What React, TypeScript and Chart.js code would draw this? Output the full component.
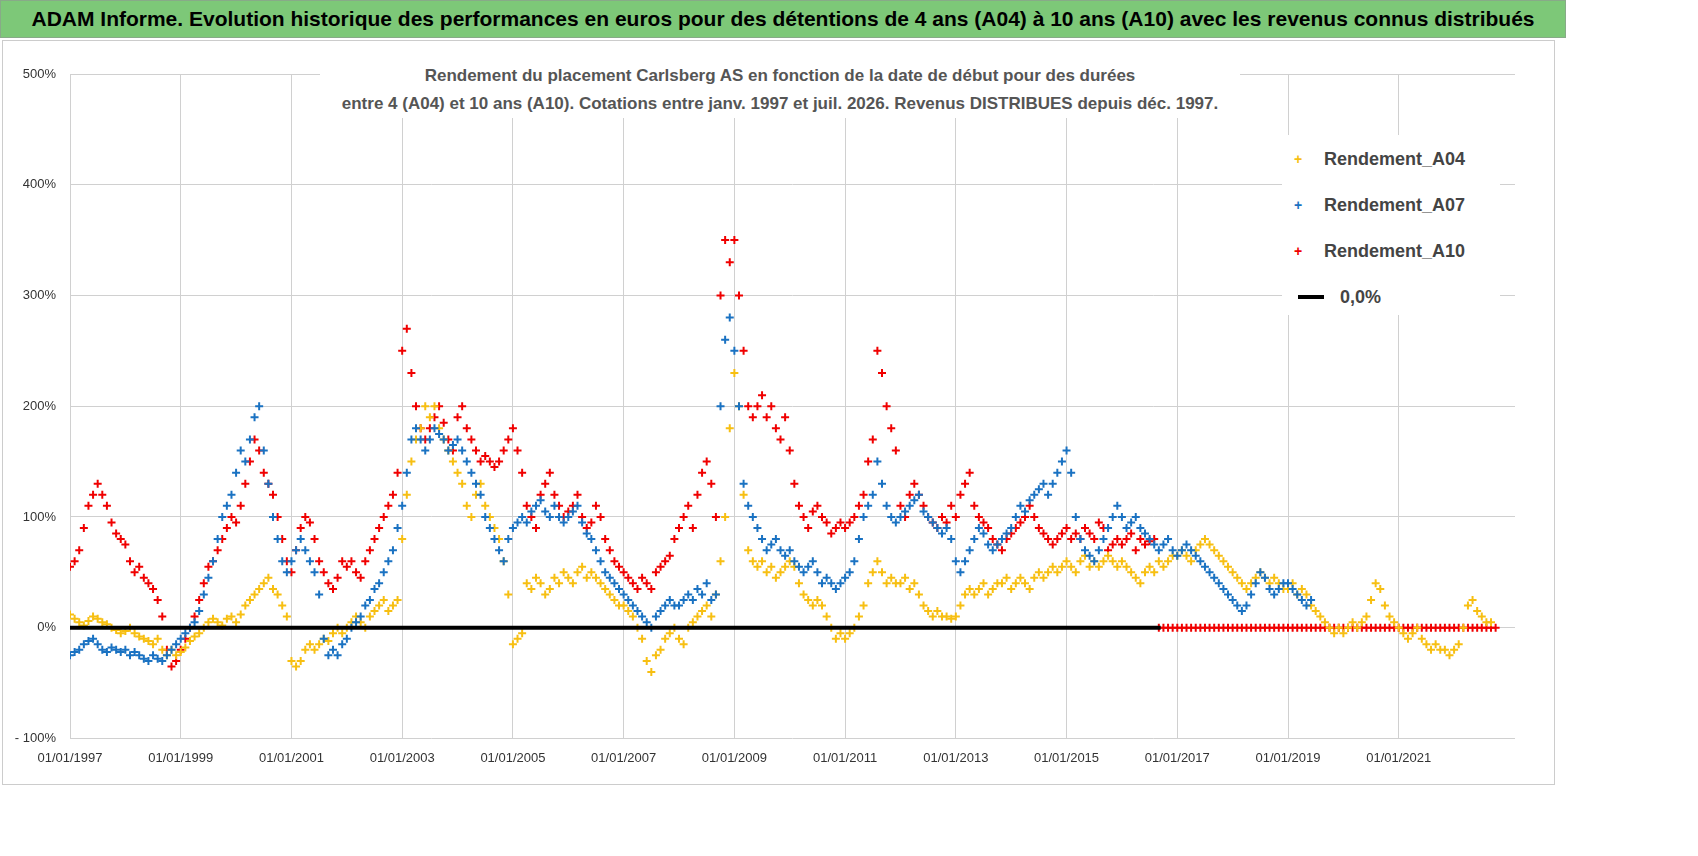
import React, { useEffect, useRef } from "react";
import { Chart, registerables } from "chart.js";
Chart.register(...registerables);

const START_YEAR = 1997;
const A04: number[] = [
  12,8,5,2,6,10,8,5,3,0,-2,-5,
  -3,0,-5,-8,-10,-12,-15,-10,-20,-25,-20,-25,
  -22,-18,-12,-8,-5,0,5,8,5,2,8,10,
  5,12,20,25,30,35,40,45,35,30,20,10,
  -30,-35,-30,-20,-15,-20,-15,-10,-12,-5,0,-5,
  0,5,10,5,0,10,15,20,25,15,20,25,
  80,120,150,170,180,200,190,200,180,170,160,150,
  140,130,110,100,120,130,110,100,90,80,60,30,
  -15,-10,-5,40,35,45,40,30,35,45,40,50,
  45,40,50,55,45,50,45,40,35,30,25,20,
  20,15,10,0,-10,-30,-40,-25,-20,-10,-5,0,
  -10,-15,0,5,10,15,20,10,30,60,100,180,
  230,200,120,70,60,55,60,50,55,45,50,55,
  60,55,40,30,25,20,25,20,10,0,-10,-5,
  -10,-5,0,10,20,40,50,60,50,40,45,40,
  40,45,35,40,30,20,15,10,15,10,10,8,
  10,20,30,35,30,35,40,30,35,40,40,45,
  35,40,45,40,35,45,50,45,50,55,50,55,
  60,55,50,60,65,55,60,55,60,65,60,55,
  60,55,50,45,40,50,55,50,60,55,60,65,
  65,70,65,60,70,75,80,75,70,65,60,55,
  50,45,40,35,40,45,50,45,40,45,40,35,
  35,40,30,35,30,20,15,10,5,0,-5,0,
  -5,0,5,0,5,10,25,40,35,20,10,5,
  0,-5,-10,-5,0,-10,-15,-20,-15,-20,-20,-25,
  -20,-15,0,20,25,15,10,5,5,
];
const A07: number[] = [
  -25,-22,-20,-15,-12,-10,-15,-20,-22,-18,-20,-22,
  -20,-25,-22,-25,-28,-30,-25,-28,-30,-25,-20,-15,
  -10,-5,0,5,15,30,45,60,80,100,110,120,
  140,160,150,170,190,200,160,130,100,80,60,50,
  60,70,80,70,60,50,30,-10,-25,-20,-25,-15,
  -10,0,5,10,20,25,35,40,50,60,70,90,
  110,140,170,180,170,160,170,180,175,170,160,165,
  170,160,150,140,130,120,100,90,80,70,60,80,
  90,95,100,95,105,110,115,105,100,110,100,95,
  100,105,110,95,85,80,70,60,50,45,40,35,
  30,25,20,15,10,5,0,10,15,20,25,20,
  20,25,30,25,35,30,40,25,30,200,260,280,
  250,200,130,110,100,90,80,70,75,80,70,65,
  70,60,55,50,55,60,50,40,45,40,35,40,
  45,50,60,80,100,110,120,150,130,110,100,95,
  100,105,110,115,120,105,100,95,90,85,90,80,
  60,50,60,70,80,90,85,75,70,75,80,85,
  90,100,110,105,115,120,125,130,120,130,140,150,
  160,140,100,80,70,65,60,70,80,90,100,110,
  100,90,95,100,90,85,80,75,70,75,80,70,
  65,70,75,70,65,60,55,50,45,40,35,30,
  25,20,15,20,30,40,50,45,35,30,35,40,
  40,35,30,25,20,25,
];
const A10: number[] = [
  55,60,70,90,110,120,130,120,110,95,85,80,
  75,60,50,55,45,40,35,25,10,-20,-35,-30,
  -20,-10,0,10,25,40,55,60,70,80,90,100,
  95,110,130,150,170,160,140,130,120,100,80,60,
  50,70,90,100,95,80,60,50,40,35,45,60,
  55,60,50,45,60,70,80,90,100,110,120,140,
  250,270,230,200,180,170,180,190,200,185,170,160,
  190,200,180,170,160,150,155,150,145,150,160,170,
  180,160,140,110,100,90,120,130,140,120,110,100,
  105,110,120,100,90,95,110,100,80,70,60,55,
  50,45,40,35,45,40,35,50,55,60,65,80,
  90,100,110,90,120,140,150,130,100,300,350,330,
  350,300,250,200,190,200,210,190,200,180,170,190,
  160,130,110,100,90,105,110,100,95,85,90,95,
  90,95,100,110,120,150,170,250,230,200,180,160,
  110,100,120,130,120,110,100,95,90,100,95,110,
  100,120,130,140,110,100,95,90,80,75,70,80,
  85,90,95,100,110,100,90,85,80,75,80,85,
  90,80,85,80,90,85,80,95,90,70,75,80,
  75,80,85,70,80,75,78,80,
];
// A10 values published as 0 from Sep 2016 onward (horizon not reached)
const A10_ZERO_START = 2016 + 8 / 12;
const A10_ZERO: number[] = [
  0,0,0,0,0,0,0,0,0,0,0,0,0,0,0,0,0,0,0,0,0,0,0,0,0,0,0,0,0,0,0,0,0,0,0,0,0,0,0,0,
  0,0,0,0,0,0,0,0,0,0,0,0,0,0,0,0,0,0,0,0,0,0,0,0,0,0,0,0,0,0,0,0,0,0,
];
const ZERO_LINE = [{ x: 1997, y: 0 }, { x: 2016.7, y: 0 }];
const LABELS = ["Rendement_A04", "Rendement_A07", "Rendement_A10", "0,0%"];
const COLORS = ["#f7bf12", "#1a72c2", "#f00000", "#000000"];

const pts = (arr: number[], start = START_YEAR) =>
  arr.map((v, i) => ({ x: start + i / 12, y: v / 100 }));

export default function App() {
  const ref = useRef<HTMLCanvasElement>(null);
  useEffect(() => {
    const sc = (c: string, data: any) => ({
      type: "scatter" as const, data, pointStyle: "cross", pointRadius: 4,
      pointBorderWidth: 2, borderColor: c, backgroundColor: c, showLine: false,
    });
    const chart = new Chart(ref.current!, {
      type: "scatter",
      data: {
        datasets: [
          { type: "line", data: ZERO_LINE, borderColor: "#000", borderWidth: 4, pointRadius: 0 } as any,
          sc(COLORS[1], pts(A07)),
          sc(COLORS[0], pts(A04)),
          sc(COLORS[2], pts(A10)),
          sc(COLORS[2], pts(A10_ZERO, A10_ZERO_START)),
        ],
      },
      options: {
        animation: false, responsive: false,
        layout: { padding: { left: 8, right: 183, top: 34, bottom: 78 } },
        plugins: { legend: { display: false }, tooltip: { enabled: false } },
        scales: {
          x: {
            type: "linear", min: 1997, max: 2023.1,
            afterBuildTicks: (a: any) => { a.ticks = [1997,1999,2001,2003,2005,2007,2009,2011,2013,2015,2017,2019,2021].map((v) => ({ value: v })); },
            ticks: { callback: (v: any) => "01/01/" + v, maxRotation: 0, color: "#333", font: { family: "Liberation Sans", size: 13 }, padding: 12 },
            grid: { color: "#d0d0d0", drawTicks: false },
            border: { display: false },
          },
          y: {
            min: -1, max: 5,
            afterFit: (a: any) => { a.width = 62; },
            ticks: { stepSize: 1, callback: (v: any) => (v < 0 ? "- " + Math.round(-v * 100) + "%" : Math.round(v * 100) + "%"), color: "#333", font: { family: "Liberation Sans", size: 13 }, padding: 14 },
            grid: { color: "#d0d0d0", drawTicks: false },
            border: { display: false },
          },
        },
      },
    });
    return () => chart.destroy();
  }, []);
  return (
    <div style={{ position: "fixed", left: 0, top: 0, width: 1698, height: 856, background: "#fff", fontFamily: "Liberation Sans, Arial" }}>
      <div style={{ position: "absolute", left: 0, top: 0, width: 1566, height: 38, background: "#7dc878", border: "1px solid #8a8", boxSizing: "border-box", fontWeight: "bold", fontSize: 21, lineHeight: "36px", textAlign: "center", color: "#000" }}>
        ADAM Informe. Evolution historique des performances en euros pour des détentions de 4 ans (A04) à 10 ans (A10) avec les revenus connus distribués
      </div>
      <div style={{ position: "absolute", left: 2, top: 40, width: 1553, height: 745, border: "1px solid #ccc", boxSizing: "border-box" }} />
      <canvas ref={ref} width={1698} height={816} style={{ position: "absolute", left: 0, top: 40 }} />
      <div style={{ position: "absolute", left: 320, top: 62, width: 920, background: "#fff", textAlign: "center", color: "#555", fontWeight: "bold", fontSize: 17, lineHeight: "28px" }}>
        Rendement du placement Carlsberg AS en fonction de la date de début pour des durées<br />
        entre 4 (A04) et 10 ans (A10). Cotations entre janv. 1997 et juil. 2026. Revenus DISTRIBUES depuis déc. 1997.
      </div>
      <div style={{ position: "absolute", left: 1282, top: 135, width: 218, height: 180, background: "#fff" }}>
        {LABELS.map((l, i) => (
          <div key={l} style={{ position: "absolute", left: 12, top: 12 + i * 46, height: 24, display: "flex", alignItems: "center", fontSize: 18, fontWeight: "bold", color: "#444" }}>
            {i < 3 ? (
              <span style={{ color: COLORS[i], fontWeight: "bold", width: 20, fontSize: 14 }}>+</span>
            ) : (
              <span style={{ display: "inline-block", width: 26, height: 4, background: "#000", marginRight: 6, marginLeft: 4 }} />
            )}
            <span style={{ marginLeft: 10 }}>{l}</span>
          </div>
        ))}
      </div>
    </div>
  );
}
